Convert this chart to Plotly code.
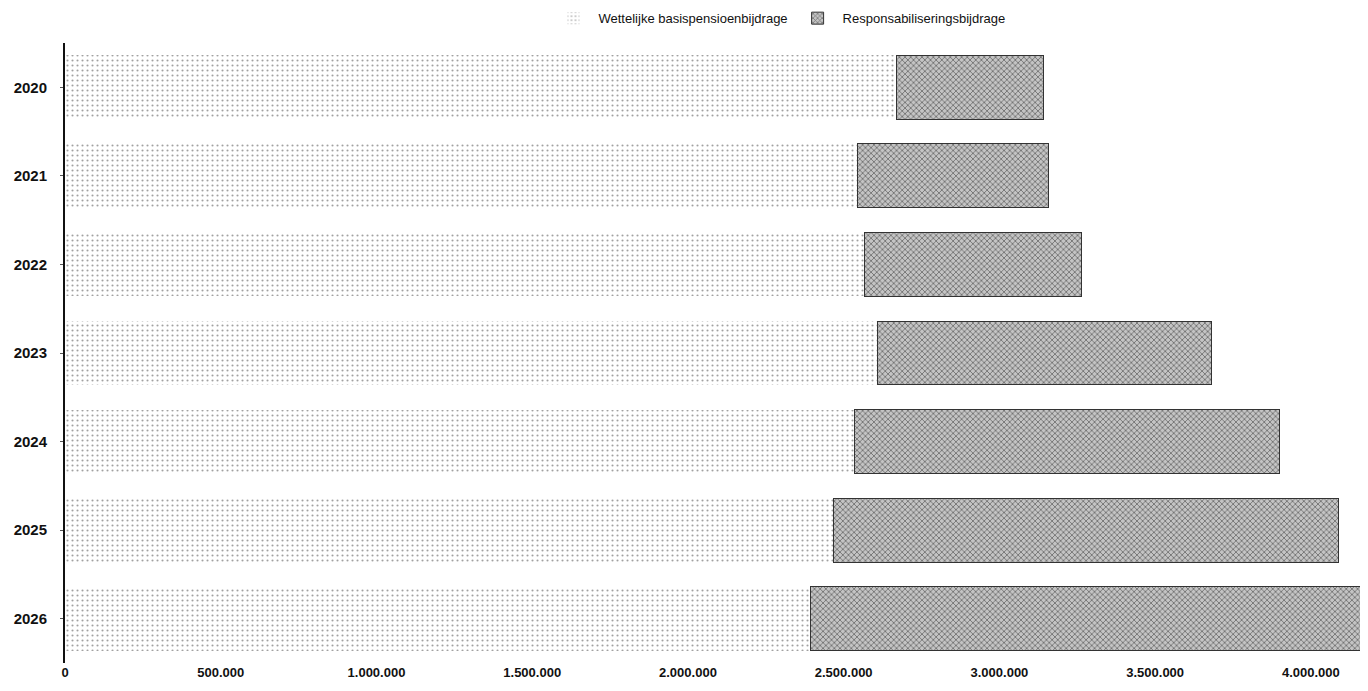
import plotly.graph_objects as go

years = ["2020", "2021", "2022", "2023", "2024", "2025", "2026"]
wettelijke = [2668000, 2543000, 2568000, 2610000, 2536000, 2466000, 2392000]
responsabilisering = [475000, 613000, 694000, 1072000, 1364000, 1624000, 1785000]
series_names = ["Wettelijke basispensioenbijdrage", "Responsabiliseringsbijdrage"]
x_ticks = [0, 500000, 1000000, 1500000, 2000000, 2500000, 3000000, 3500000, 4000000]

font_family = "Liberation Sans Narrow, Arial Narrow, Liberation Sans, Arial, sans-serif"

fig = go.Figure()
fig.add_trace(go.Bar(
    y=years, x=wettelijke, orientation="h", name=series_names[0],
    marker=dict(color="#ffffff",
                pattern=dict(shape=".", fgcolor="#444444", bgcolor="#ffffff",
                             size=5, solidity=0.14),
                line=dict(width=0)),
))
fig.add_trace(go.Bar(
    y=years, x=responsabilisering, orientation="h", name=series_names[1],
    marker=dict(color="#9a9a9a",
                pattern=dict(shape="x", fgcolor="#222222", bgcolor="#c4c4c4",
                             size=4, solidity=0.4),
                line=dict(width=1, color="#333333")),
))

fig.update_layout(
    width=1368, height=691,
    barmode="stack", bargap=0.28,
    separators=",.",
    paper_bgcolor="white", plot_bgcolor="white",
    margin=dict(l=57, r=0, t=35, b=36, autoexpand=False),
    font=dict(family=font_family, size=13, color="#111111"),
    legend=dict(orientation="h", x=0.545, xanchor="center", y=1.040, yanchor="middle",
                font=dict(size=13, family=font_family), traceorder="normal",
                itemwidth=40, bgcolor="rgba(0,0,0,0)"),
    showlegend=True,
)
fig.update_xaxes(range=[0, 4209000], tickvals=x_ticks, tickformat=",d",
                 showgrid=False, zeroline=False, showline=False, automargin=False,
                 ticks="", tickfont=dict(size=13, family=font_family, weight="bold"))
fig.update_yaxes(type="category", autorange="reversed", showgrid=False, automargin=False,
                 showline=True, linecolor="#111111", linewidth=2,
                 ticks="outside", ticklen=3, tickcolor="#555555",
                 ticklabelstandoff=10,
                 tickfont=dict(size=15, family=font_family, weight="bold"))

fig.write_html("out.html")
